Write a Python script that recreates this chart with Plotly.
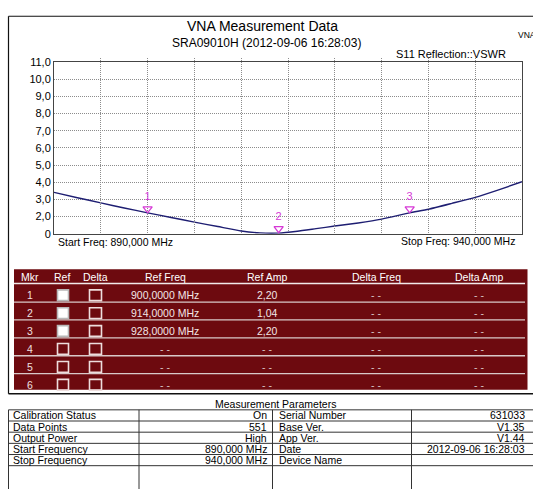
import plotly.graph_objects as go

W, H = 533, 489

# ---------------- data ----------------
freq_mhz = [890, 892.5, 895, 897.5, 900, 902.5, 905, 907.5, 910, 912, 914,
            916, 918, 920, 922.5, 925, 928, 930, 932.5, 935, 937.5, 940]
vswr = [3.41, 3.10, 2.80, 2.50, 2.22, 1.95, 1.68, 1.42, 1.16, 1.05, 1.04,
        1.15, 1.30, 1.45, 1.63, 1.85, 2.22, 2.43, 2.77, 3.12, 3.56, 4.03]

y_tick_vals = [1, 2, 3, 4, 5, 6, 7, 8, 9, 10, 11]
y_tick_text = ["0", "2,0", "3,0", "4,0", "5,0", "6,0", "7,0", "8,0", "9,0", "10,0", "11,0"]
x_grid_step = 5

marker_ids = ["1", "2", "3"]
marker_freq = [900, 914, 928]
marker_amp = [2.20, 1.04, 2.20]

title_text = "VNA Measurement Data"
subtitle_text = "SRA09010H (2012-09-06 16:28:03)"
corner_label = "VNA"
trace_label = "S11 Reflection::VSWR"
start_freq_label = "Start Freq: 890,000 MHz"
stop_freq_label = "Stop Freq: 940,000 MHz"

table_headers = ["Mkr", "Ref", "Delta", "Ref Freq", "Ref Amp", "Delta Freq", "Delta Amp"]
mkr_numbers = ["1", "2", "3", "4", "5", "6"]
ref_checked = [True, True, True, False, False, False]
delta_checked = [False, False, False, False, False, False]
ref_freq_text = ["900,0000 MHz", "914,0000 MHz", "928,0000 MHz", "- -", "- -", "- -"]
ref_amp_text = ["2,20", "1,04", "2,20", "- -", "- -", "- -"]
delta_freq_text = ["- -", "- -", "- -", "- -", "- -", "- -"]
delta_amp_text = ["- -", "- -", "- -", "- -", "- -", "- -"]

param_title = "Measurement Parameters"
param_names_left = ["Calibration Status", "Data Points", "Output Power",
                    "Start Frequency", "Stop Frequency", ""]
param_values_left = ["On", "551", "High", "890,000 MHz", "940,000 MHz", ""]
param_names_right = ["Serial Number", "Base Ver.", "App Ver.", "Date", "Device Name", ""]
param_values_right = ["631033", "V1.35", "V1.44", "2012-09-06 16:28:03", "", ""]

# ---------------- styling / layout helpers ----------------
FONT = "Liberation Sans, Arial, sans-serif"
MAGENTA = "#d63ad6"
DARKRED = "#6d0a0f"

def px(x):
    return x / W

def py(y):
    return 1 - y / H

shapes = []
annotations = []

def text(x, y, s, size=10.5, color="black", xanchor="center", yanchor="middle"):
    annotations.append(dict(x=px(x), y=py(y), xref="paper", yref="paper", text=s,
                            showarrow=False, xanchor=xanchor, yanchor=yanchor,
                            borderpad=0,
                            font=dict(family=FONT, size=size, color=color)))

def rect(x0, y0, x1, y1, line_color=None, fill=None, width=1):
    shapes.append(dict(type="rect", xref="paper", yref="paper",
                       x0=px(x0), y0=py(y0), x1=px(x1), y1=py(y1),
                       line=dict(color=line_color or "rgba(0,0,0,0)",
                                 width=width if line_color else 0),
                       fillcolor=fill or "rgba(0,0,0,0)", layer="above"))

def hline(x0, x1, y, color, width=1):
    shapes.append(dict(type="line", xref="paper", yref="paper",
                       x0=px(x0), x1=px(x1), y0=py(y), y1=py(y),
                       line=dict(color=color, width=width), layer="above"))

def vline(x, y0, y1, color, width=1):
    shapes.append(dict(type="line", xref="paper", yref="paper",
                       x0=px(x), x1=px(x), y0=py(y0), y1=py(y1),
                       line=dict(color=color, width=width), layer="above"))

# plot area in pixels
PL, PR, PT, PB = 54, 522, 57.5, 233.5

fig = go.Figure()
fig.add_trace(go.Scatter(x=freq_mhz, y=vswr, mode="lines",
                         line=dict(color="#1e1e72", width=1.4, shape="spline", smoothing=0.5),
                         hoverinfo="skip", showlegend=False, cliponaxis=True))
# marker triangles on a slightly raised copy of the y scale (tip sits on the curve)
fig.add_trace(go.Scatter(x=marker_freq, y=marker_amp, mode="markers+text",
                         text=marker_ids, textposition="top center",
                         textfont=dict(family=FONT, size=11, color=MAGENTA),
                         marker=dict(symbol="triangle-down-open", size=8,
                                     color=MAGENTA, line=dict(width=1.3, color=MAGENTA)),
                         xaxis="x", yaxis="y2", cliponaxis=False,
                         hoverinfo="skip", showlegend=False))

# outer frame of chart section
hline(8.5, 560, 10.5, "#111", 1.2)
hline(8.5, 560, 397.5, "#111", 1.6)
vline(8.5, 10.5, 397.5, "#111", 1.2)

# titles
text(262, 20, title_text, size=14)
text(266, 37.5, subtitle_text, size=12)
text(517, 30, corner_label, size=8.5, xanchor="left")
text(507, 49, trace_label, size=11, xanchor="right")
text(57, 241.5, start_freq_label, size=10.5, xanchor="left")
text(516, 241, stop_freq_label, size=10.5, xanchor="right")

# ---------------- marker table ----------------
rect(14, 270, 527.5, 393.5, fill=DARKRED)
col_x = [30, 61.5, 95.5, 165, 267, 376, 479]
header_y = 278
row_step = 18.35
row_y = [296.5 + row_step * i for i in range(len(mkr_numbers))]
for cx, h in zip(col_x, table_headers):
    text(cx, header_y, h, size=10.5, color="white")
hline(14, 525, 284.5, "#f2eaea", 1.6)
for i in range(len(mkr_numbers) - 1):
    hline(14, 525, 303.5 + row_step * i, "#d9c9c9", 1.3)
for i, ry in enumerate(row_y):
    text(col_x[0], ry, mkr_numbers[i], size=10.5, color="#eee0e0")
    if ref_checked[i]:
        rect(57.5, ry - 5.5, 68.5, ry + 5.5, line_color="#b8b8b8", fill="white", width=1.6)
    else:
        rect(57.5, ry - 5.5, 68.5, ry + 5.5, line_color="#eedddd", width=1.6)
    if delta_checked[i]:
        rect(89.5, ry - 5.5, 101.5, ry + 5.5, line_color="#b8b8b8", fill="white", width=1.6)
    else:
        rect(89.5, ry - 5.5, 101.5, ry + 5.5, line_color="#eedddd", width=1.6)
    for cx, col in zip(col_x[3:], [ref_freq_text, ref_amp_text, delta_freq_text, delta_amp_text]):
        s = col[i]
        c = "#d8c4c4" if s.strip("- ") == "" else "#f2e6e6"
        text(cx, ry, s, size=10.5, color=c)

# ---------------- measurement parameters ----------------
text(275, 407.5, param_title, size=10.5)
prow = 11.45
p_lines = [414 + prow * i for i in range(len(param_names_left))]
for yl in p_lines:
    hline(8.5, 560, yl, "#333", 1)
for xv in [8.5, 139, 272.5, 411.5]:
    vline(xv, 414, 500, "#333", 1)
for i in range(len(param_names_left)):
    cy = p_lines[i] + prow / 2
    text(12, cy, param_names_left[i], size=10.5, xanchor="left")
    text(268, cy, param_values_left[i], size=10.5, xanchor="right")
    text(278, cy, param_names_right[i], size=10.5, xanchor="left")
    text(526, cy, param_values_right[i], size=10.5, xanchor="right")

raise_px = 4.5
grid_style = dict(showgrid=True, gridcolor="#8c8c8c", griddash="1px,1px", gridwidth=1)
fig.update_layout(
    width=W, height=H, autosize=False,
    margin=dict(l=0, r=0, t=0, b=0, pad=0),
    paper_bgcolor="white", plot_bgcolor="rgba(0,0,0,0)",
    font=dict(family=FONT, size=11, color="black"),
    shapes=shapes, annotations=annotations, showlegend=False,
    xaxis=dict(domain=[px(PL), px(PR)], range=[890, 940], dtick=x_grid_step, tick0=890,
               showticklabels=False, ticks="", **grid_style,
               showline=True, mirror=True, linecolor="#444", linewidth=1,
               zeroline=False, fixedrange=True),
    yaxis=dict(domain=[py(PB), py(PT)], range=[1, 11], tickvals=y_tick_vals,
               ticktext=y_tick_text, ticks="", **grid_style,
               tickfont=dict(family=FONT, size=11, color="black"),
               showline=True, mirror=True, linecolor="#444", linewidth=1,
               zeroline=False, fixedrange=True),
    yaxis2=dict(domain=[py(PB) + raise_px / H, py(PT) + raise_px / H], range=[1, 11],
                anchor="x", visible=False, showgrid=False, fixedrange=True),
)

fig.write_html("out.html", include_plotlyjs=True, full_html=True,
               config={"displayModeBar": False, "staticPlot": True},
               post_script="document.body.style.margin='0';")
